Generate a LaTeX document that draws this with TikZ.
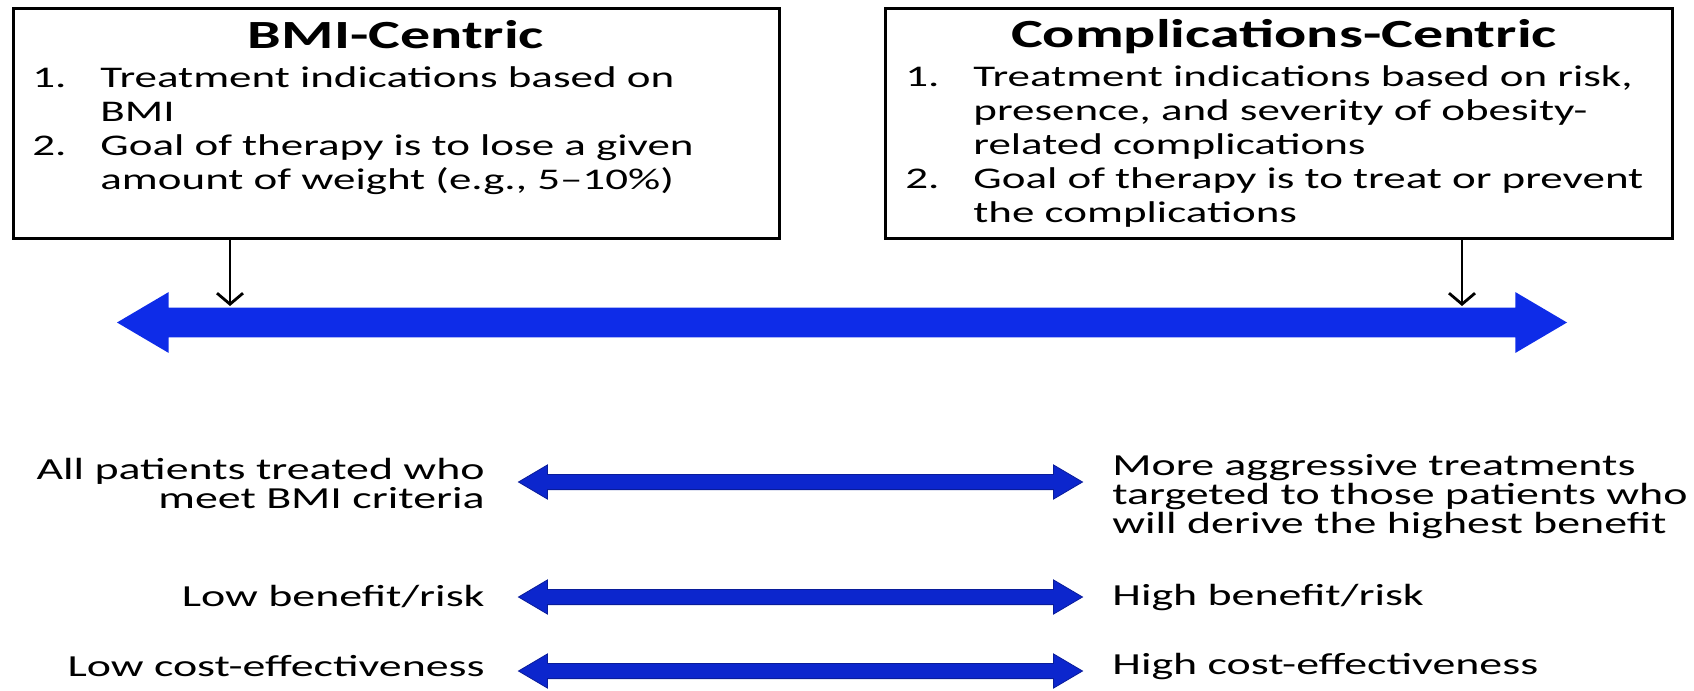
\documentclass[tikz,border=0pt]{standalone}
\usepackage{fontspec}
\setmainfont{Carlito}[FakeStretch=1.5]
\usetikzlibrary{shapes.arrows,arrows.meta}
\definecolor{bandblue}{RGB}{14,44,232}
\definecolor{rowblue}{RGB}{12,38,205}
% lines hung from the first baseline
\newcommand{\toplines}[1]{\begin{tabular}[t]{@{}l@{}}#1\end{tabular}}

\begin{document}
\begin{tikzpicture}[x=0.5pt, y=-0.5pt,
    panel/.style={rectangle, draw=black, line width=1.5pt, fill=white, inner sep=0pt},
    ptitle/.style={anchor=base, font=\fontsize{20}{24}\selectfont\bfseries, inner sep=0pt},
    pnum/.style={anchor=base west, font=\fontsize{15}{17}\selectfont, inner sep=0pt},
    pitem/.style={anchor=base west, font=\fontsize{15}{17}\selectfont, inner sep=0pt},
    spectrum/.style={double arrow, fill=bandblue, inner xsep=0pt, inner ysep=7.25pt, minimum width=1pt, double arrow head extend=7.75pt, double arrow tip angle=61, minimum height=725pt},
    rowarrow/.style={double arrow, fill=rowblue, draw=rowblue!75!black, line width=0.4pt, inner xsep=0pt, inner ysep=3.6pt, minimum width=1pt, double arrow head extend=4.75pt, double arrow tip angle=61, minimum height=282pt},
    lowtxt/.style={anchor=east, align=right, font=\fontsize{15.3}{14.5}\selectfont, inner sep=0pt},
    hightxt/.style={anchor=west, align=left, font=\fontsize{15.3}{14.5}\selectfont, inner sep=0pt},
    drop/.style={-{Straight Barb[length=5.5pt,width=13pt]}, line width=1.4pt}
]
    \useasboundingbox (0,0) rectangle (1694,691);

    % the two approaches
    \node[panel, minimum width=383pt, minimum height=115pt] (bmibox) at (396,123) {};
    \node[ptitle] (bmititle) at (396,48) {BMI-Centric};
    \node[pnum] (bmin1) at (32,87) {1.};
    \node[pitem] (bmit1) at (100,87) {\toplines{Treatment indications based on\\BMI}};
    \node[pnum] (bmin2) at (32,155) {2.};
    \node[pitem] (bmit2) at (100,155) {\toplines{Goal of therapy is to lose a given\\amount of weight (e.g., 5--10\%)}};

    \node[panel, minimum width=393.5pt, minimum height=115pt] (compbox) at (1278.5,123) {};
    \node[ptitle] (comptitle) at (1284,47) {Complications-Centric};
    \node[pnum] (compn1) at (905,86) {1.};
    \node[pitem] (compt1) at (973,86) {\toplines{Treatment indications based on risk,\\presence, and severity of obesity-\\related complications}};
    \node[pnum] (compn2) at (905,188) {2.};
    \node[pitem] (compt2) at (973,188) {\toplines{Goal of therapy is to treat or prevent\\the complications}};

    % big spectrum arrow
    \node[spectrum] (band) at (842,322.5) {};
    \coordinate (bmiend) at (230,306);
    \coordinate (compend) at (1462,306);
    \draw[drop] (bmibox.south -| bmiend) -- (bmiend);
    \draw[drop] (compbox.south -| compend) -- (compend);

    % consequences
    \node[rowarrow] (rowa) at (800.5,482) {};
    \node[lowtxt] (lowa) at (485,483) {All patients treated who\\meet BMI criteria};
    \node[hightxt] (higha) at (1112,497) {More aggressive treatments\\targeted to those patients who\\will derive the highest benefit};

    \node[rowarrow] (rowb) at (800.5,597) {};
    \node[lowtxt] (lowb) at (485,597) {Low benefit/risk};
    \node[hightxt] (highb) at (1112,597) {High benefit/risk};

    \node[rowarrow] (rowc) at (800.5,671) {};
    \node[lowtxt] (lowc) at (485,666) {Low cost-effectiveness};
    \node[hightxt] (highc) at (1112,666) {High cost-effectiveness};
\end{tikzpicture}
\end{document}
